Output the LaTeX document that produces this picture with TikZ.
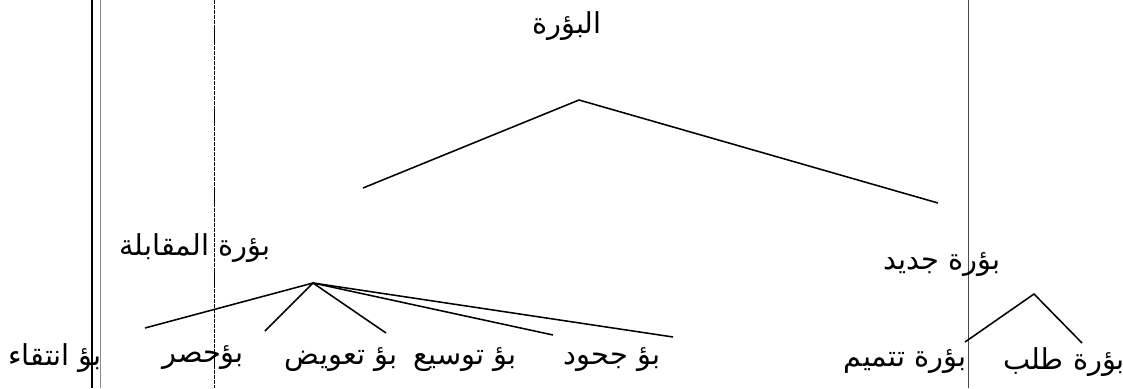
\documentclass[tikz,border=0pt]{standalone}
\usepackage{fontspec}
\usepackage{tikz}
\usetikzlibrary{positioning, calc}
\newfontfamily\arabicfont[Script=Arabic]{DejaVu Sans}
\TeXXeTstate=1
\definecolor{rulegray}{HTML}{8C8C8C}
\definecolor{rulegrid}{HTML}{4A4A4A}

\begin{document}
\begin{tikzpicture}[x=0.025cm, y=-0.025cm,
        lbl/.style={inner sep=1pt, font=\arabicfont\fontsize{20.5}{24}\selectfont},
        branch/.style={black, line width=1.1pt}]
        \useasboundingbox (0,0) rectangle (1123,388);

        % Page rules
        \draw[black, line width=1.1pt] (92,0) -- (92,388);
        \draw[rulegray, line width=0.5pt] (100,0) -- (100,388);
        \draw[black, line width=0.5pt, dash pattern=on 3pt off 0.6pt] (214,0) -- (214,388);
        \draw[rulegrid, line width=0.6pt] (968,0) -- (968,388);

        % Root
        \node[lbl] (root) at (567, 26) {\beginR البؤرة\endR};
        \coordinate (rootapex) at (579, 100);

        % First level
        \node[lbl] (contrast) at (195, 248) {\beginR بؤرة المقابلة\endR};
        \node[lbl] (newfoc) at (942, 265) {\beginR بؤرة جديد\endR};
        \coordinate (contrastend) at (363, 188);
        \coordinate (newend) at (938, 203);
        \draw[branch] (contrastend) -- (rootapex) -- (newend);

        % Contrastive branches
        \coordinate (capex) at (313, 283);
        \node[lbl] (select) at (55, 358) {\beginR بؤ انتقاء\endR};
        \node[lbl] (restrict) at (203, 358) {\beginR بؤحصر\endR};
        \node[lbl] (replace) at (341, 360) {\beginR بؤ تعويض\endR};
        \node[lbl] (expand) at (465, 360) {\beginR بؤ توسيع\endR};
        \node[lbl] (reject) at (612, 360) {\beginR بؤ جحود\endR};
        \coordinate (c1) at (145, 328);
        \coordinate (c2) at (265, 331);
        \coordinate (c3) at (386, 333);
        \coordinate (c4) at (553, 335);
        \coordinate (c5) at (673, 337);
        \foreach \e in {c1, c2, c3, c4, c5}
            \draw[branch] (capex) -- (\e);

        % New-information branches
        \coordinate (napex) at (1034, 294);
        \node[lbl] (complete) at (905, 362) {\beginR بؤرة تتميم\endR};
        \node[lbl] (request) at (1064, 362) {\beginR بؤرة طلب\endR};
        \coordinate (n1) at (965, 342);
        \coordinate (n2) at (1082, 343);
        \draw[branch] (n1) -- (napex) -- (n2);
\end{tikzpicture}
\end{document}
